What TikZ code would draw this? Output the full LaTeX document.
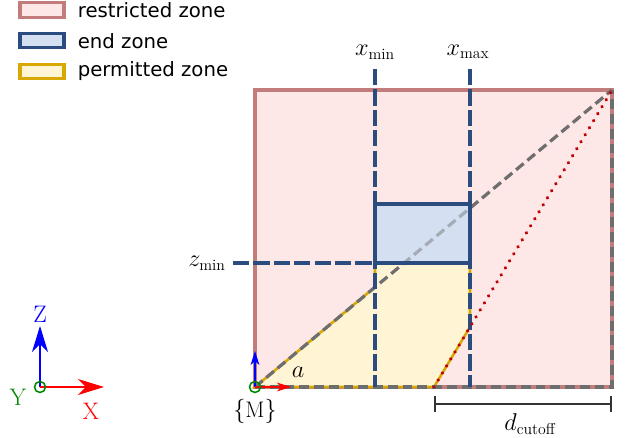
\documentclass[tikz,border=0pt]{standalone}
\usepackage{amsmath}
\usepackage{fontspec}
\newfontfamily\legendfont{DejaVu Sans}
\usetikzlibrary{arrows.meta, positioning, calc}

\definecolor{zonefill}{HTML}{FDE7E7}
\definecolor{zoneline}{HTML}{C27C7C}
\definecolor{endfill}{HTML}{D4E0F2}
\definecolor{endline}{HTML}{2B4C7E}
\definecolor{permfill}{HTML}{FFF4D4}
\definecolor{permline}{HTML}{D8A800}
\definecolor{limgray}{HTML}{6E6E6E}
\definecolor{cutred}{HTML}{C00000}
\definecolor{axgreen}{HTML}{008800}

\begin{document}
\begin{tikzpicture}[
  x=0.025cm, y=-0.025cm,
  legbox/.style={rectangle, draw, line width=2.2pt, minimum width=1.1cm, minimum height=0.36cm, inner sep=0pt},
  legtext/.style={font=\legendfont\fontsize{14}{16}\selectfont, inner sep=0pt, anchor=west},
  mlabel/.style={font=\fontsize{16}{19}\selectfont, inner sep=1pt},
  axlabel/.style={font=\fontsize{17}{20}\selectfont, inner sep=1pt},
  boundline/.style={draw=endline, line width=2.3pt, dash pattern=on 11.5pt off 3pt},
  reachline/.style={draw=limgray, line width=2.3pt, dash pattern=on 7pt off 3.5pt},
  axarr/.style={-{Stealth[length=6.5mm, width=4mm, inset=2mm]}, line width=1.1pt},
  smarr/.style={-{Stealth[length=3.5mm, width=2.2mm, inset=1mm]}, line width=1.1pt}]

  \useasboundingbox (0,0) rectangle (625,438);

  % legend
  \node[legbox, draw=zoneline, fill=zonefill] (legred) at (42,10) {};
  \node[legbox, draw=endline, fill=endfill, below=0.33cm of legred] (legblue) {};
  \node[legbox, draw=permline, fill=permfill, below=0.33cm of legblue] (legyellow) {};
  \node[legtext, right=0.3cm of legred] (txtred) {restricted zone};
  \node[legtext, right=0.3cm of legblue] (txtblue) {end zone};
  \node[legtext, right=0.3cm of legyellow] (txtyellow) {permitted zone};

  % zone corners
  \coordinate (M) at (255,387);
  \coordinate (TL) at (255,90);
  \coordinate (TR) at (612,90);
  \coordinate (BR) at (612,387);
  \coordinate (cut) at (434,387);
  \coordinate (diagmin) at (375,287);
  \coordinate (cutmax) at (470,327);
  \coordinate (endA) at (375,204);
  \coordinate (endB) at (470,263);
  \coordinate (endC) at (375,263);

  % restricted zone
  \draw[zoneline, fill=zonefill, line width=2.6pt] (M) -- (TL) -- (TR) -- (BR) -- cycle;

  % permitted zone
  \draw[permline, fill=permfill, line width=1.8pt]
    (M) -- (diagmin) -- (endC) -- (endB) -- (cutmax) -- (cut) -- cycle;

  % end zone
  \fill[endfill] (endA) rectangle (endB);

  % limits of the reach
  \draw[reachline] (M) -- (TR);
  \draw[reachline] (M) -- (BR) -- (TR);
  \fill[endfill, fill opacity=0.55] (endA) rectangle (endB);

  % x / z limits
  \node[mlabel] (xminlbl) at (375,52) {$x_{\min}$};
  \node[mlabel] (xmaxlbl) at (468,52) {$x_{\max}$};
  \node[mlabel] (zminlbl) at (207,263) {$z_{\min}$};
  \coordinate (xmintop) at (375,69);
  \coordinate (xmaxtop) at (470,69);
  \coordinate (zminleft) at (233,263);
  \draw[boundline] (xmintop) -- (xmintop |- M);
  \draw[boundline] (xmaxtop) -- (xmaxtop |- M);
  \draw[boundline] (zminleft) -- (endC);

  \draw[endline, line width=2.3pt] (endA) rectangle (endB);

  % cutoff line
  \draw[cutred, line width=2.6pt, dash pattern=on 0.01pt off 5.8pt, line cap=round] (cut) -- (TR);

  % d_cutoff
  \coordinate (dimA) at (434,404);
  \coordinate (dimB) at (612,404);
  \draw[black!80, line width=1.4pt, {Bar[width=11pt]}-{Bar[width=11pt]}] (dimA) -- (dimB);
  \node[mlabel] (dlbl) at (530,424) {$d_{\text{cutoff}}$};

  % frame M
  \coordinate (Mz) at (255,351);
  \coordinate (Mx) at (291,387);
  \draw[blue, smarr] (M) -- (Mz);
  \draw[red, smarr] (M) -- (Mx);
  \draw[axgreen, line width=1.1pt] (M) circle (5.5);
  \node[mlabel] (Mlbl) at (255,411) {$\{\mathrm{M}\}$};
  \node[mlabel] (albl) at (298,372) {$a$};

  % world axes
  \coordinate (O) at (40,387);
  \coordinate (Oz) at (40,326);
  \coordinate (Ox) at (104,387);
  \draw[blue, axarr] (O) -- (Oz);
  \draw[red, axarr] (O) -- (Ox);
  \draw[axgreen, line width=1.1pt] (O) circle (5.5);
  \node[axlabel, text=blue] (zlbl) at (40,314) {Z};
  \node[axlabel, text=red] (xlbl) at (91,411) {X};
  \node[axlabel, text=axgreen] (ylbl) at (18,397) {Y};
\end{tikzpicture}
\end{document}
